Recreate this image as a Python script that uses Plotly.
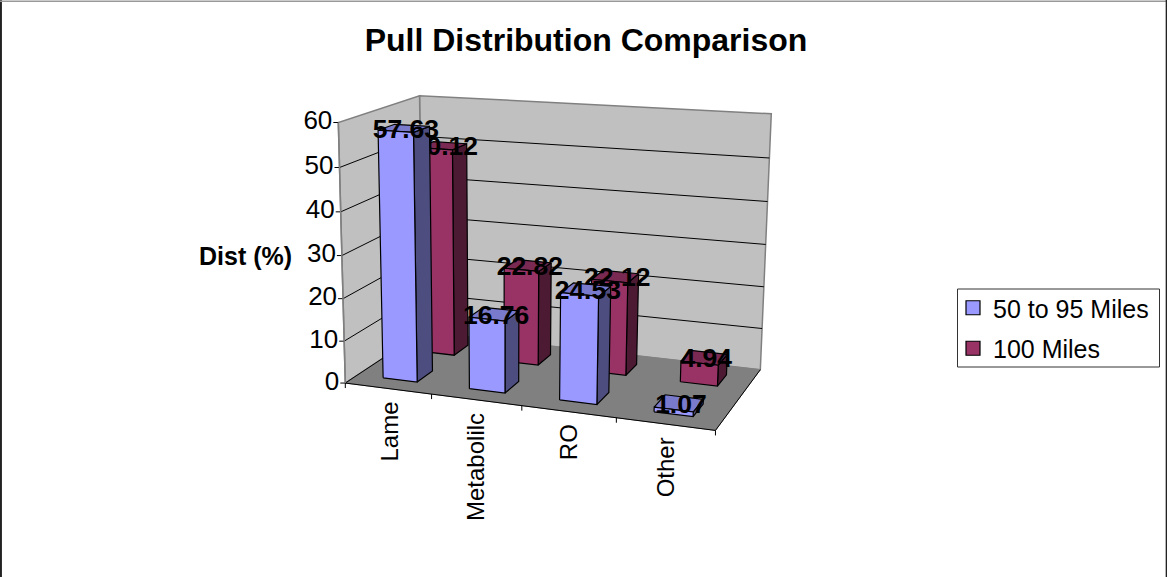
import numpy as np
import plotly.graph_objects as go

# ---- data ----
categories = ["Lame", "Metabolilc", "RO", "Other"]
series_a_name = "50 to 95 Miles"
series_b_name = "100 Miles"
series_a = [57.63, 16.76, 24.53, 1.07]
series_b = [50.12, 22.82, 22.12, 4.94]
y_ticks = [0, 10, 20, 30, 40, 50, 60]
y_max = 60
title_text = "Pull Distribution Comparison"
y_title = "Dist (%)"

# ---- 3D box -> page projection, calibrated on the box corners ----
W, H = 1167, 577
box_corners = [((0, 0, 0), (347, 383)), ((1, 0, 0), (715, 431)), ((1, 0, 1), (761, 369)),
               ((0, 0, 1), (421, 332)), ((0, 1, 0), (337, 122)), ((0, 1, 1), (421, 96)),
               ((1, 1, 1), (771, 114))]
rows = []
for (a, b, c), (px, py) in box_corners:
    rows.append([a, b, c, 1, 0, 0, 0, 0, -px * a, -px * b, -px * c, -px])
    rows.append([0, 0, 0, 0, a, b, c, 1, -py * a, -py * b, -py * c, -py])
PM = np.linalg.svd(np.array(rows, float))[2][-1].reshape(3, 4)


def proj(u, v, d):
    """u: category axis 0..1, v: value, d: depth 0..1"""
    p = PM @ np.array([u, v / y_max, d, 1.0])
    return p[0] / p[2], p[1] / p[2]


def polys(faces):
    xs, ys = [], []
    for f in faces:
        pts = [proj(*q) for q in f]
        pts.append(pts[0])
        xs += [p[0] for p in pts] + [None]
        ys += [p[1] for p in pts] + [None]
    return xs, ys


def lines(segs):
    xs, ys = [], []
    for (x0, y0), (x1, y1) in segs:
        xs += [x0, x1, None]
        ys += [y0, y1, None]
    return xs, ys


fig = go.Figure()
SKIP = dict(hoverinfo="skip", showlegend=False)
WALL = "#C0C0C0"
FLOOR = "#808080"
EDGE = "#808080"


def face(faces, fill, line, width=1.2):
    x, y = polys(faces)
    fig.add_trace(go.Scatter(x=x, y=y, mode="lines", fill="toself", fillcolor=fill,
                             line=dict(color=line, width=width), **SKIP))


# walls & floor
face([[(0, 0, 1), (1, 0, 1), (1, y_max, 1), (0, y_max, 1)]], WALL, EDGE, 1.5)
face([[(0, 0, 0), (0, 0, 1), (0, y_max, 1), (0, y_max, 0)]], WALL, EDGE, 1.5)
face([[(0, 0, 0), (1, 0, 0), (1, 0, 1), (0, 0, 1)]], FLOOR, FLOOR, 1)

# gridlines
segs = []
for t in y_ticks[1:-1]:
    segs.append((proj(0, t, 0), proj(0, t, 1)))
    segs.append((proj(0, t, 1), proj(1, t, 1)))
x, y = lines(segs)
fig.add_trace(go.Scatter(x=x, y=y, mode="lines", line=dict(color="black", width=1), **SKIP))

# axes lines and ticks
n = len(categories)
segs = [(proj(0, 0, 0), proj(1, 0, 0)), (proj(1, 0, 0), proj(1, 0, 1))]
segs += [(proj(0, 0, 0), proj(0, 0, 1))]
for i in range(n + 1):
    p = proj(i / n, 0, 0)
    segs.append((p, (p[0], p[1] + 5)))
for t in y_ticks:
    p = proj(0, t, 0)
    segs.append((p, (p[0] - 5, p[1])))
x, y = lines(segs)
fig.add_trace(go.Scatter(x=x, y=y, mode="lines", line=dict(color="black", width=1), **SKIP))
x, y = lines([(proj(0, 0, 0), proj(0, y_max, 0))])
fig.add_trace(go.Scatter(x=x, y=y, mode="lines", line=dict(color=EDGE, width=1.5), **SKIP))

# y tick labels
tp = [proj(0, t, 0) for t in y_ticks]
fig.add_trace(go.Scatter(x=[p[0] - 6 for p in tp], y=[p[1] for p in tp], mode="text",
                         text=[str(t) for t in y_ticks], textposition="middle left",
                         textfont=dict(family="Liberation Sans", size=26, color="black"), **SKIP))

# bars, back row first so the front row hides it
BAR_LO, BAR_HI = 0.30, 0.70   # share of a category slot
ROW_LO, ROW_HI = 0.30, 0.70   # share of a depth row
LABEL_DX, LABEL_DY = 2, 3     # nudge of value labels, px


def draw_series(values, row, front, side, top):
    d0 = (row + ROW_LO) / 2
    d1 = (row + ROW_HI) / 2
    sides, tops, fronts = [], [], []
    lx, ly, lt = [], [], []
    for i, v in enumerate(values):
        u0 = (i + BAR_LO) / n
        u1 = (i + BAR_HI) / n
        sides.append([(u1, 0, d0), (u1, 0, d1), (u1, v, d1), (u1, v, d0)])
        tops.append([(u0, v, d0), (u1, v, d0), (u1, v, d1), (u0, v, d1)])
        fronts.append([(u0, 0, d0), (u1, 0, d0), (u1, v, d0), (u0, v, d0)])
        c = proj((u0 + u1) / 2, v, (d0 + d1) / 2)
        lx.append(c[0] + LABEL_DX)
        ly.append(c[1] + LABEL_DY)
        lt.append(f"{v:.2f}")
    face(sides, side, "black")
    face(tops, top, "black")
    face(fronts, front, "black")
    fig.add_trace(go.Scatter(x=lx, y=ly, mode="text", text=lt, textposition="middle center",
                             textfont=dict(family="Liberation Sans", size=26.5, color="black", weight="bold"),
                             **SKIP))


draw_series(series_b, 1, "#993366", "#4D1A33", "#7A2952")
draw_series(series_a, 0, "#9999FF", "#4D4D80", "#7A7ACC")

# legend entries
for nm, col, grp in [(series_a_name, "#9999FF", "a"), (series_b_name, "#993366", "b")]:
    fig.add_trace(go.Scatter(x=[None], y=[None], mode="markers", name=nm, legendgroup=grp,
                             marker=dict(symbol="square", size=14, color=col,
                                         line=dict(color="black", width=1.2))))

# category labels
annots = []
for i, c in enumerate(categories):
    p = proj((i + 0.5) / n, 0, 0)
    annots.append(dict(x=p[0] + (2 if i == 0 else 0), y=p[1] + 11, xref="x", yref="y", text=c, showarrow=False,
                       textangle=-90, xanchor="center", yanchor="top",
                       font=dict(family="Liberation Sans", size=24, color="black")))
annots.append(dict(x=245, y=256, xref="x", yref="y", text=f"<b>{y_title}</b>", showarrow=False,
                   font=dict(family="Liberation Sans", size=25, color="black")))

fig.update_layout(
    width=W, height=H, margin=dict(l=0, r=0, t=0, b=0),
    paper_bgcolor="white", plot_bgcolor="white",
    title=dict(text=f"<b>{title_text}</b>", x=586 / W, xanchor="center", y=1 - 40 / H, yanchor="middle",
               font=dict(family="Liberation Sans", size=32, color="black")),
    xaxis=dict(range=[0, W], visible=False, fixedrange=True),
    yaxis=dict(range=[H, 0], visible=False, fixedrange=True),
    annotations=annots,
    legend=dict(x=953 / W, y=1 - 285 / H, xanchor="left", yanchor="top",
                borderwidth=0, bgcolor="rgba(0,0,0,0)",
                tracegroupgap=5, font=dict(family="Liberation Sans", size=25, color="black")),
    shapes=[
        dict(type="rect", xref="x", yref="y", x0=957.5, x1=1159.5, y0=289, y1=367,
             line=dict(color="#333333", width=1), fillcolor="white", layer="above"),
        dict(type="line", xref="paper", yref="paper", x0=0.0008, x1=0.0008, y0=0, y1=1,
             line=dict(color="#222222", width=2)),
        dict(type="line", xref="paper", yref="paper", x0=0, x1=1, y0=0.998, y1=0.998,
             line=dict(color="#999999", width=1.5)),
        dict(type="line", xref="paper", yref="paper", x0=0.9995, x1=0.9995, y0=0, y1=1,
             line=dict(color="#222222", width=1.5)),
    ],
)
fig.write_html("out.html", post_script="document.body.style.margin='0';",
               config={"displayModeBar": False})
